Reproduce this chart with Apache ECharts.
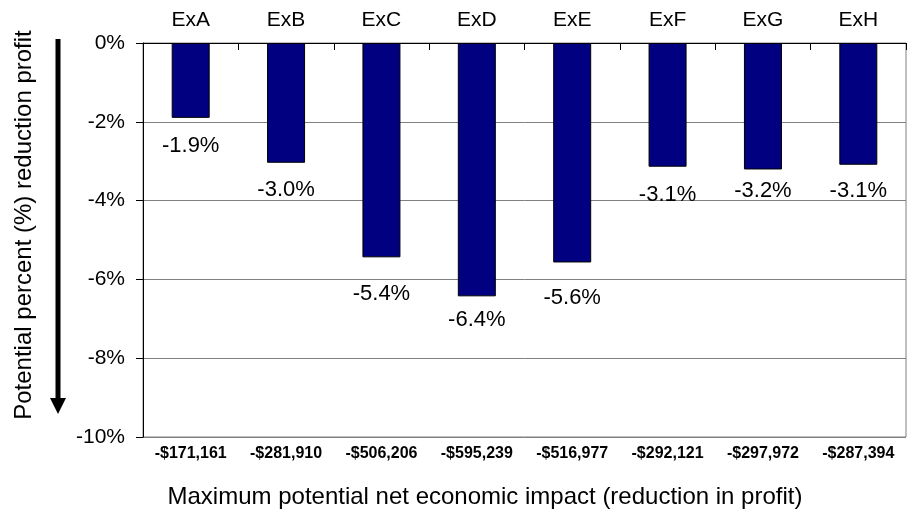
<!DOCTYPE html>
<html>
<head>
<meta charset="utf-8">
<script src="https://cdn.jsdelivr.net/npm/echarts@6/dist/echarts.min.js"></script>
<style>
  html, body { margin: 0; padding: 0; background: #fff; }
  #main { width: 907px; height: 519px; }
</style>
</head>
<body>
<div id="main"></div>
<script>
  // 数据：各个方案名称、对应的利润损失百分比和金额
  var scenarios = ["ExA", "ExB", "ExC", "ExD", "ExE", "ExF", "ExG", "ExH"];
  var percentLoss = [-1.90, -3.04, -5.44, -6.43, -5.57, -3.14, -3.21, -3.09];
  var dollarLoss = ["-$171,161", "-$281,910", "-$506,206", "-$595,239",
                    "-$516,977", "-$292,121", "-$297,972", "-$287,394"];
  var yMin = -10;
  var yMax = 0;
  var yStep = 2;

  var FONT = "'Liberation Sans', Arial, Helvetica, sans-serif";

  // 标签与柱底之间的距离（原图中手动摆放过，略有不同）
  var labelGap = [17, 16, 26, 13, 24, 17, 10, 15];

  var myChart = echarts.init(document.getElementById("main"), null, { renderer: "canvas" });

  var barData = percentLoss.map(function (v, idx) {
    return { value: v, label: { distance: labelGap[idx] } };
  });

  var option = {
    backgroundColor: "#ffffff",
    animation: false,
    grid: {
      left: 143,
      right: 1,
      top: 43,
      bottom: 82,
      show: true,
      borderColor: "#808080",
      borderWidth: 1,
      containLabel: false
    },
    xAxis: [
      {
        type: "category",
        position: "top",
        data: scenarios,
        axisLine: { show: true, onZero: false, lineStyle: { color: "#000", width: 1 } },
        axisTick: { show: true, inside: true, length: 7, lineStyle: { color: "#000" } },
        axisLabel: { color: "#000", fontSize: 21, fontFamily: FONT, margin: 12 },
        splitLine: { show: false }
      },
      {
        type: "category",
        position: "bottom",
        data: dollarLoss,
        axisLine: { show: false },
        axisTick: { show: false },
        axisLabel: { color: "#000", fontSize: 16, fontWeight: "bold", fontFamily: FONT, margin: 9 },
        splitLine: { show: false }
      }
    ],
    yAxis: {
      type: "value",
      min: yMin,
      max: yMax,
      interval: yStep,
      axisLine: { show: true, lineStyle: { color: "#000", width: 1 } },
      axisTick: { show: true, length: 7, lineStyle: { color: "#000" } },
      axisLabel: {
        color: "#000",
        fontSize: 21,
        fontFamily: FONT,
        margin: 18,
        formatter: function (v) { return v + "%"; }
      },
      splitLine: { show: true, lineStyle: { color: "#808080", width: 1 } }
    },
    series: [
      {
        type: "bar",
        xAxisIndex: 0,
        data: barData,
        barWidth: 38,
        itemStyle: { color: "#000080", borderColor: "#000", borderWidth: 1 },
        label: {
          show: true,
          position: "bottom",
          color: "#000",
          fontSize: 22,
          fontFamily: FONT,
          formatter: function (p) { return p.value.toFixed(1) + "%"; }
        }
      }
    ],
    graphic: [
      // 左侧的向下箭头
      {
        type: "line",
        shape: { x1: 58, y1: 39, x2: 58, y2: 400 },
        style: { stroke: "#000", lineWidth: 5 }
      },
      {
        type: "polygon",
        shape: { points: [[50, 398], [66, 398], [58, 414]] },
        style: { fill: "#000" }
      },
      // y轴标题
      {
        type: "text",
        x: 24,
        y: 225,
        rotation: Math.PI / 2,
        style: {
          text: "Potential percent (%) reduction profit",
          fill: "#000",
          font: "24px " + FONT,
          textAlign: "center",
          textVerticalAlign: "middle"
        }
      },
      // x轴标题
      {
        type: "text",
        x: 485,
        y: 497,
        style: {
          text: "Maximum potential net economic impact (reduction in profit)",
          fill: "#000",
          font: "24px " + FONT,
          textAlign: "center",
          textVerticalAlign: "middle"
        }
      }
    ]
  };

  myChart.setOption(option);
</script>
</body>
</html>
